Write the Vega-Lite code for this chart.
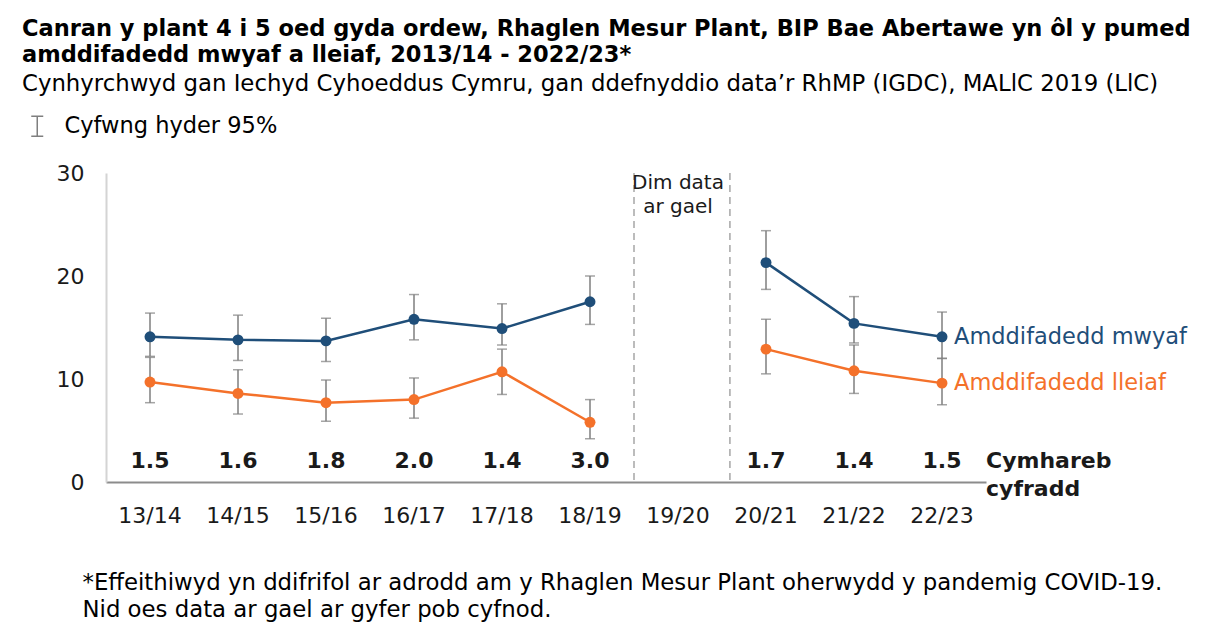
{
  "$schema": "https://vega.github.io/schema/vega-lite/v6.json",
  "width": 880,
  "height": 309,
  "autosize": {"type": "none"},
  "padding": {"left": 106, "top": 173, "right": 225, "bottom": 151},
  "background": "white",
  "config": {
    "font": "DejaVu Sans",
    "view": {"stroke": null},
    "axisX": {"domainColor": "#8c8c8c", "domainWidth": 2, "ticks": false, "labelFontSize": 22, "labelColor": "#1a1a1a", "labelPadding": 23, "labelAngle": 0, "grid": false},
    "axisY": {"domainColor": "#d4d4d4", "domainWidth": 2, "ticks": false, "labelFontSize": 22, "labelColor": "#1a1a1a", "labelPadding": 22, "grid": false}
  },
  "title": {
    "text": ["Canran y plant 4 i 5 oed gyda ordew, Rhaglen Mesur Plant, BIP Bae Abertawe yn ôl y pumed", "amddifadedd mwyaf a lleiaf, 2013/14 - 2022/23*"],
    "subtitle": "Cynhyrchwyd gan Iechyd Cyhoeddus Cymru, gan ddefnyddio data’r RhMP (IGDC), MALlC 2019 (LlC)",
    "anchor": "start",
    "frame": "group",
    "dx": -84,
    "offset": 19,
    "font": "DejaVu Sans",
    "fontSize": 22.5,
    "fontWeight": "bold",
    "lineHeight": 26,
    "color": "#000000",
    "subtitleFont": "DejaVu Sans",
    "subtitleFontSize": 22.8,
    "subtitleColor": "#000000",
    "subtitlePadding": 7
  },
  "datasets": {
    "main": [
      {"period": "13/14", "group": "Amddifadedd mwyaf", "value": 14.1, "lo": 12.2, "hi": 16.4},
      {"period": "14/15", "group": "Amddifadedd mwyaf", "value": 13.8, "lo": 11.8, "hi": 16.2},
      {"period": "15/16", "group": "Amddifadedd mwyaf", "value": 13.7, "lo": 11.7, "hi": 15.9},
      {"period": "16/17", "group": "Amddifadedd mwyaf", "value": 15.8, "lo": 13.8, "hi": 18.2},
      {"period": "17/18", "group": "Amddifadedd mwyaf", "value": 14.9, "lo": 13.3, "hi": 17.3},
      {"period": "18/19", "group": "Amddifadedd mwyaf", "value": 17.5, "lo": 15.3, "hi": 20.0},
      {"period": "19/20", "group": "Amddifadedd mwyaf", "value": null, "lo": null, "hi": null},
      {"period": "20/21", "group": "Amddifadedd mwyaf", "value": 21.3, "lo": 18.7, "hi": 24.4},
      {"period": "21/22", "group": "Amddifadedd mwyaf", "value": 15.4, "lo": 13.5, "hi": 18.0},
      {"period": "22/23", "group": "Amddifadedd mwyaf", "value": 14.1, "lo": 12.0, "hi": 16.5},
      {"period": "13/14", "group": "Amddifadedd lleiaf", "value": 9.7, "lo": 7.7, "hi": 12.1},
      {"period": "14/15", "group": "Amddifadedd lleiaf", "value": 8.6, "lo": 6.6, "hi": 10.9},
      {"period": "15/16", "group": "Amddifadedd lleiaf", "value": 7.7, "lo": 5.9, "hi": 9.9},
      {"period": "16/17", "group": "Amddifadedd lleiaf", "value": 8.0, "lo": 6.2, "hi": 10.1},
      {"period": "17/18", "group": "Amddifadedd lleiaf", "value": 10.7, "lo": 8.5, "hi": 12.9},
      {"period": "18/19", "group": "Amddifadedd lleiaf", "value": 5.8, "lo": 4.2, "hi": 8.0},
      {"period": "19/20", "group": "Amddifadedd lleiaf", "value": null, "lo": null, "hi": null},
      {"period": "20/21", "group": "Amddifadedd lleiaf", "value": 12.9, "lo": 10.5, "hi": 15.8},
      {"period": "21/22", "group": "Amddifadedd lleiaf", "value": 10.8, "lo": 8.6, "hi": 13.3},
      {"period": "22/23", "group": "Amddifadedd lleiaf", "value": 9.6, "lo": 7.5, "hi": 12.0}
    ],
    "ratios": [
      {"period": "13/14", "ratio": "1.5"},
      {"period": "14/15", "ratio": "1.6"},
      {"period": "15/16", "ratio": "1.8"},
      {"period": "16/17", "ratio": "2.0"},
      {"period": "17/18", "ratio": "1.4"},
      {"period": "18/19", "ratio": "3.0"},
      {"period": "20/21", "ratio": "1.7"},
      {"period": "21/22", "ratio": "1.4"},
      {"period": "22/23", "ratio": "1.5"}
    ],
    "gaps": [
      {"period": "19/20", "note": "Dim data\nar gael"},
      {"period": "20/21", "note": ""}
    ],
    "ratioTitle": [
      {"period": "22/23", "label": "Cymhareb\ncyfradd"}
    ]
  },
  "layer": [
    {
      "data": {"name": "gaps"},
      "transform": [{"filter": "datum.period == '19/20'"}],
      "mark": {"type": "rule", "color": "#a6a6a6", "strokeWidth": 1.5, "strokeDash": [7, 5]},
      "encoding": {
        "x": {
          "field": "period",
          "type": "ordinal",
          "bandPosition": 0,
          "scale": {"type": "band", "domain": ["13/14", "14/15", "15/16", "16/17", "17/18", "18/19", "19/20", "20/21", "21/22", "22/23"], "paddingInner": 0, "paddingOuter": 0},
          "axis": {
            "title": ["*Effeithiwyd yn ddifrifol ar adrodd am y Rhaglen Mesur Plant oherwydd y pandemig COVID-19.", "Nid oes data ar gael ar gyfer pob cyfnod."],
            "titleFont": "DejaVu Sans",
            "titleFontSize": 22.8,
            "titleFontWeight": "normal",
            "titleColor": "#000000",
            "titleAlign": "left",
            "titleAnchor": "start",
            "titleBaseline": "alphabetic",
            "titleX": -24,
            "titleY": 107,
            "titleLineHeight": 27
          }
        }
      }
    },
    {
      "data": {"name": "gaps"},
      "transform": [{"filter": "datum.period == '20/21'"}],
      "mark": {"type": "rule", "color": "#a6a6a6", "strokeWidth": 1.5, "strokeDash": [7, 5]},
      "encoding": {
        "x": {"field": "period", "type": "ordinal", "bandPosition": 0.09}
      }
    },
    {
      "data": {"name": "gaps"},
      "transform": [{"filter": "datum.note != ''"}],
      "mark": {"type": "text", "fontSize": 20, "color": "#1a1a1a", "baseline": "top", "lineBreak": "\n", "lineHeight": 24, "align": "center"},
      "encoding": {
        "x": {"field": "period", "type": "ordinal", "bandPosition": 0.5},
        "y": {"datum": 30, "type": "quantitative"},
        "text": {"field": "note"}
      }
    },
    {
      "data": {"name": "main"},
      "mark": {"type": "rule", "color": "#7f7f7f", "strokeWidth": 1.5},
      "encoding": {
        "x": {"field": "period", "type": "ordinal"},
        "y": {"field": "lo", "type": "quantitative", "scale": {"domain": [0, 30], "nice": false}, "axis": {"title": null, "values": [0, 10, 20, 30]}},
        "y2": {"field": "hi"},
        "strokeDash": {
          "datum": "Cyfwng hyder 95%",
          "type": "nominal",
          "scale": {"range": [[1, 0]]},
          "legend": {
            "title": null,
            "orient": "none",
            "legendX": -80,
            "legendY": -58,
            "padding": 0,
            "symbolType": "M-0.6,-1H0.6M0,-1V1M-0.6,1H0.6",
            "symbolSize": 400,
            "symbolStrokeColor": "#7f7f7f",
            "symbolStrokeWidth": 1.5,
            "symbolFillColor": "transparent",
            "labelFont": "DejaVu Sans",
            "labelFontSize": 22.5,
            "labelColor": "#000000",
            "labelOffset": 16,
            "labelLimit": 500
          }
        }
      }
    },
    {
      "data": {"name": "main"},
      "mark": {"type": "tick", "color": "#7f7f7f", "size": 10, "thickness": 1.5},
      "encoding": {
        "x": {"field": "period", "type": "ordinal"},
        "y": {"field": "lo", "type": "quantitative"}
      }
    },
    {
      "data": {"name": "main"},
      "mark": {"type": "tick", "color": "#7f7f7f", "size": 10, "thickness": 1.5},
      "encoding": {
        "x": {"field": "period", "type": "ordinal"},
        "y": {"field": "hi", "type": "quantitative"}
      }
    },
    {
      "data": {"name": "main"},
      "mark": {"type": "line", "strokeWidth": 2.5, "invalid": "break-paths-show-domains"},
      "encoding": {
        "x": {"field": "period", "type": "ordinal"},
        "y": {"field": "value", "type": "quantitative"},
        "color": {"field": "group", "type": "nominal", "scale": {"domain": ["Amddifadedd mwyaf", "Amddifadedd lleiaf"], "range": ["#1f4e79", "#f4712a"]}, "legend": null}
      }
    },
    {
      "data": {"name": "main"},
      "mark": {"type": "circle", "size": 120, "opacity": 1},
      "encoding": {
        "x": {"field": "period", "type": "ordinal"},
        "y": {"field": "value", "type": "quantitative"},
        "color": {"field": "group", "type": "nominal"}
      }
    },
    {
      "data": {"name": "main"},
      "transform": [{"filter": "datum.period == '22/23'"}],
      "mark": {"type": "text", "fontSize": 22.5, "align": "left", "baseline": "middle", "dx": 12},
      "encoding": {
        "x": {"field": "period", "type": "ordinal"},
        "y": {"field": "value", "type": "quantitative"},
        "color": {"field": "group", "type": "nominal"},
        "text": {"field": "group"}
      }
    },
    {
      "data": {"name": "ratios"},
      "mark": {"type": "text", "fontSize": 22, "fontWeight": "bold", "color": "#1a1a1a", "baseline": "middle", "align": "center"},
      "encoding": {
        "x": {"field": "period", "type": "ordinal"},
        "y": {"datum": 2, "type": "quantitative"},
        "text": {"field": "ratio"}
      }
    },
    {
      "data": {"name": "ratioTitle"},
      "mark": {"type": "text", "fontSize": 22, "fontWeight": "bold", "color": "#1a1a1a", "baseline": "alphabetic", "align": "left", "dx": 44, "lineBreak": "\n", "lineHeight": 28},
      "encoding": {
        "x": {"field": "period", "type": "ordinal"},
        "y": {"datum": 1.33, "type": "quantitative"},
        "text": {"field": "label"}
      }
    }
  ]
}
